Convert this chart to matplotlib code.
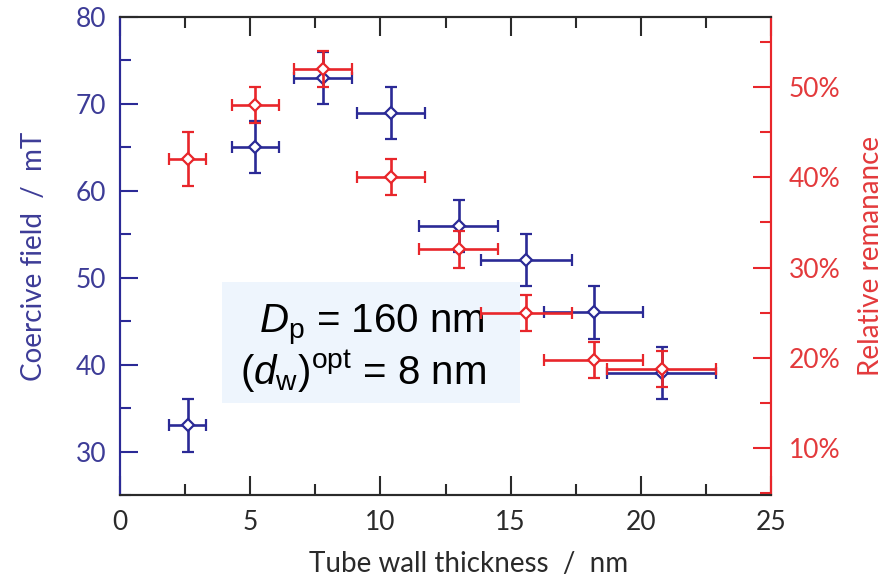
import matplotlib
matplotlib.use("Agg")
import matplotlib.pyplot as plt
from matplotlib.patches import Rectangle
from matplotlib.ticker import MultipleLocator, FuncFormatter

# ---- data ----
thickness = [2.6, 5.2, 7.8, 10.4, 13.0, 15.6, 18.2, 20.8]
thickness_err = [0.7, 0.9, 1.1, 1.3, 1.5, 1.75, 1.9, 2.1]
coercive = [33, 65, 73, 69, 56, 52, 46, 39]
coercive_err = [3, 3, 3, 3, 3, 3, 3, 3]
remanence = [42, 48, 52, 40, 32, 25, 19.8, 18.8]
remanence_err = [3, 2, 2, 2, 2, 2, 2, 2]

x_ticks = [0, 5, 10, 15, 20, 25]
left_ticks = [30, 40, 50, 60, 70, 80]
right_ticks = [10, 20, 30, 40, 50]

BLUE = "#2b2a96"
RED = "#e8262b"
BLUE_TXT = "#3d3c97"
RED_TXT = "#e33a3c"
DARK = "#2a2a2a"

plt.rcParams["font.family"] = ["Lato", "DejaVu Sans"]
plt.rcParams["mathtext.fontset"] = "custom"
plt.rcParams["mathtext.rm"] = "Liberation Sans"
plt.rcParams["mathtext.it"] = "Liberation Sans:italic"

fig = plt.figure(figsize=(8.96, 5.83), dpi=100)
ax = fig.add_axes([120/896, 1-495/583, (771-120)/896, (495-17)/583])
ax2 = ax.twinx()

ax.set_zorder(1)
ax2.set_zorder(2)
ax.patch.set_visible(True)
ax2.patch.set_visible(False)

# annotation box (under data)
ax.add_patch(Rectangle((0.157, 0.192), 0.457, 0.254, transform=ax.transAxes,
                       facecolor="#eef5fd", edgecolor="none", zorder=0.5))

ebkw = dict(fmt="D", markersize=6, markerfacecolor="white", markeredgewidth=1.6,
            elinewidth=1.9, capsize=4, capthick=1.9)
ax.errorbar(thickness, coercive, yerr=coercive_err, xerr=thickness_err,
            color=BLUE, zorder=2, **ebkw)
ax2.errorbar(thickness, remanence, yerr=remanence_err, xerr=thickness_err,
             color=RED, zorder=2, **ebkw)

ax.set_xlim(0, 25)
ax.set_ylim(25, 80)
ax2.set_ylim(4.8, 57.75)

ax.set_xticks(x_ticks)
ax.xaxis.set_minor_locator(MultipleLocator(2.5))
ax.set_yticks(left_ticks)
ax.yaxis.set_minor_locator(MultipleLocator(5))
ax2.set_yticks(right_ticks)
ax2.yaxis.set_minor_locator(MultipleLocator(5))
ax2.yaxis.set_major_formatter(FuncFormatter(lambda v, p: f"{int(v)}%"))

TL = 19
ax.tick_params(axis="x", which="major", direction="in", length=14, width=1.5,
               colors=DARK, labelsize=TL, top=True, pad=11)
ax.tick_params(axis="x", which="minor", direction="in", length=8, width=1.5,
               colors=DARK, top=True)
ax.tick_params(axis="y", which="major", direction="in", length=13, width=1.5,
               colors=BLUE, labelcolor=BLUE_TXT, labelsize=TL, pad=10)
ax.tick_params(axis="y", which="minor", direction="in", length=8, width=1.5,
               colors=BLUE)
ax2.tick_params(axis="y", which="major", direction="in", length=13, width=1.5,
                colors=RED, labelcolor=RED_TXT, labelsize=TL, pad=13)
ax2.tick_params(axis="y", which="minor", direction="in", length=8, width=1.5,
                colors=RED)

for a in (ax, ax2):
    a.spines["top"].set_color(DARK)
    a.spines["bottom"].set_color(DARK)
    a.spines["left"].set_color(BLUE)
    a.spines["right"].set_color(RED)
    for s in a.spines.values():
        s.set_linewidth(1.5)

LS = 20
ax.set_xlabel("Tube wall thickness  /  nm", fontsize=LS, color=DARK)
ax.set_ylabel("Coercive field  /  mT", fontsize=LS, color=BLUE_TXT)
ax2.set_ylabel("Relative remanance", fontsize=LS, color=RED_TXT)
ax.xaxis.set_label_coords(0.535, -0.118)
ax.yaxis.set_label_coords(-0.112, 0.5)
ax2.yaxis.set_label_coords(1.134, 0.5)

ax.text(0.386, 0.341, r"$D_{\mathrm{p}}$ = 160 nm", transform=ax.transAxes,
        ha="center", va="baseline", fontsize=29, family="Liberation Sans",
        color="black", zorder=3)
ax.text(0.374, 0.230, r"($d_{\mathrm{w}}$)$^{\mathrm{opt}}$ = 8 nm", transform=ax.transAxes,
        ha="center", va="baseline", fontsize=29, family="Liberation Sans",
        color="black", zorder=3)

fig.savefig("out.png", dpi=100)
